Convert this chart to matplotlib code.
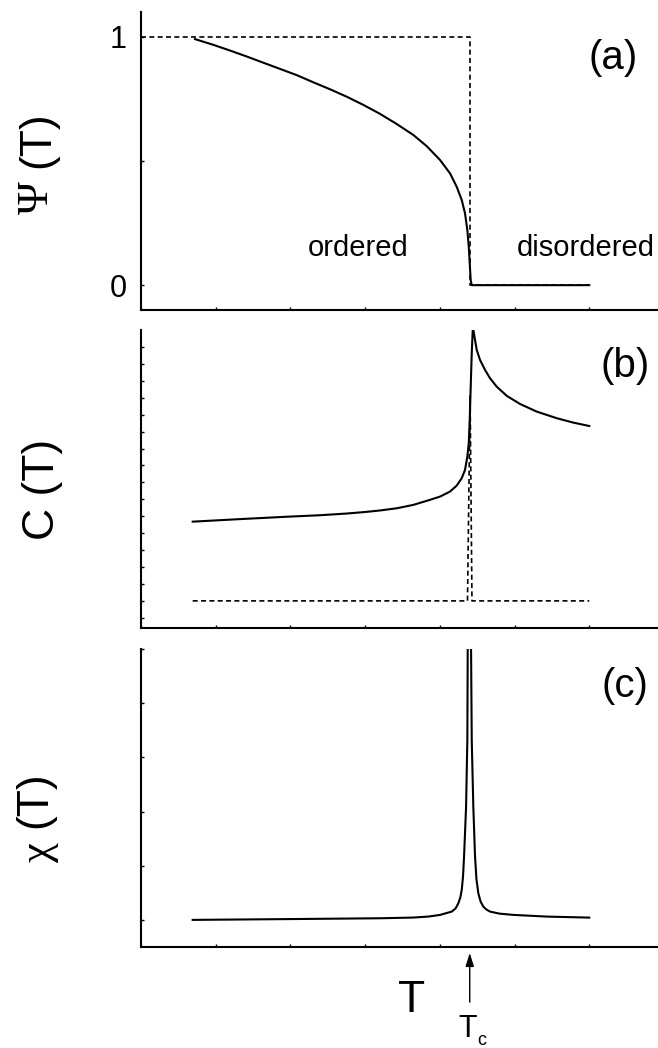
import matplotlib
matplotlib.use("Agg")
from matplotlib import pyplot as plt

plt.rcParams['font.family'] = ['Liberation Sans', 'DejaVu Sans']

# critical temperature (same x units as the curves)
Tc = 4.40

# (a) order parameter
psi_T = [0.723, 0.968, 1.191, 1.415, 1.637, 1.861, 2.084, 2.307, 2.530, 2.754,
         2.976, 3.199, 3.423, 3.645, 3.824, 4.003, 4.137, 4.226, 4.293, 4.337,
         4.368, 4.387, 4.400, 4.413, 4.427, 6.0]
psi = [0.991, 0.968, 0.945, 0.921, 0.896, 0.871, 0.846, 0.817, 0.789, 0.759,
       0.726, 0.690, 0.649, 0.605, 0.560, 0.504, 0.450, 0.396, 0.343, 0.289,
       0.222, 0.155, 0.088, 0.020, 0.0, 0.0]
step_T = [0.0, Tc, Tc, 6.0]
step_psi = [1.0, 1.0, 0.0, 0.0]

# (b) specific heat
C_T = [0.692, 1.325, 1.950, 2.4, 2.754, 3.0, 3.199, 3.423, 3.645, 3.869,
       4.003, 4.137, 4.226, 4.293, 4.337, 4.368, 4.387, 4.400, 4.413, 4.427,
       4.440, 4.449, 4.471, 4.494, 4.538, 4.605, 4.672, 4.762, 4.896, 5.074,
       5.297, 5.565, 5.787, 6.0]
C = [5.68, 5.83, 5.97, 6.06, 6.16, 6.25, 6.34, 6.47, 6.67, 6.97,
     7.16, 7.46, 7.81, 8.25, 8.74, 9.52, 10.31, 11.69, 13.65, 15.63,
     17.0, 17.0, 16.41, 15.82, 15.23, 14.64, 14.15, 13.65, 13.11, 12.63,
     12.18, 11.79, 11.53, 11.33]
C1_T = [0.692, 4.37, 4.405, 4.43, 6.0]
C1 = [1.0, 1.0, 13.1, 1.0, 1.0]

# (c) susceptibility
chi_T = [0.692, 2.0, 3.2, 3.645, 3.85, 4.003, 4.159, 4.21, 4.248, 4.275,
         4.293, 4.31, 4.324, 4.351, 4.368, 4.373, 4.395, 4.418, 4.427, 4.448,
         4.471, 4.49, 4.515, 4.545, 4.582, 4.62, 4.672, 4.8, 4.984, 5.431, 6.0]
chi = [0.0, 0.015, 0.03, 0.043, 0.062, 0.092, 0.153, 0.21, 0.307, 0.42,
       0.552, 0.8, 1.166, 2.087, 3.315, 4.97, 9.0, 4.97, 3.315, 2.087,
       1.166, 0.75, 0.492, 0.34, 0.245, 0.195, 0.153, 0.115, 0.092, 0.061, 0.042]

fig = plt.figure(figsize=(6.58, 10.48), dpi=100)

left, width, height = 0.2143, 0.7857, 0.2843
ax_a = fig.add_axes([left, 0.7042, width, height])
ax_b = fig.add_axes([left, 0.4008, width, height])
ax_c = fig.add_axes([left, 0.0964, width, height])

for ax in (ax_a, ax_b, ax_c):
    ax.set_xlim(0, 6.92)
    ax.set_xticks(range(0, 7))
    ax.set_xticklabels([])
    for s in ('top', 'right'):
        ax.spines[s].set_visible(False)
    for s in ('left', 'bottom'):
        ax.spines[s].set_linewidth(1.5)
    ax.tick_params(direction='in', length=2, width=1, pad=10, labelsize=22)

dash = (0, (3, 2))

ax_a.plot(psi_T, psi, color='k', lw=1.5)
ax_a.plot(step_T, step_psi, color='k', lw=1.2, linestyle=dash)
ax_a.set_ylim(-0.1, 1.1)
ax_a.set_yticks([0, 0.5, 1])
ax_a.set_yticklabels(['0', '', '1'])

ax_b.plot(C_T, C, color='k', lw=1.5)
ax_b.plot(C1_T, C1, color='k', lw=1.2, linestyle=dash)
ax_b.set_ylim(-0.6, 17)
ax_b.set_yticks(range(0, 17))
ax_b.set_yticklabels([])

ax_c.plot(chi_T, chi, color='k', lw=1.5)
ax_c.set_ylim(-0.5, 5.0)
ax_c.set_yticks(range(0, 6))
ax_c.set_yticklabels([])

# axis titles: greek symbol in a serif face, "(T)" in sans
serif = ['Liberation Serif', 'DejaVu Serif']
fig.text(0.0562, 0.8115, 'Ψ', rotation=90, ha='center', va='center', fontsize=32, family=serif)
fig.text(0.057, 0.8664, '(T)', rotation=90, ha='center', va='center', fontsize=32)
fig.text(0.0653, 0.5334, 'C (T)', rotation=90, ha='center', va='center', fontsize=32)
fig.text(0.060, 0.1870, 'χ', rotation=90, ha='center', va='center', fontsize=32, family=serif)
fig.text(0.0525, 0.2366, '(T)', rotation=90, ha='center', va='center', fontsize=32)

fig.text(0.9316, 0.934, '(a)', ha='center', va='baseline', fontsize=29)
fig.text(0.9498, 0.6403, '(b)', ha='center', va='baseline', fontsize=29)
fig.text(0.9498, 0.3349, '(c)', ha='center', va='baseline', fontsize=29)

fig.text(0.5441, 0.7557, 'ordered', ha='center', va='baseline', fontsize=21)
fig.text(0.8906, 0.7557, 'disordered', ha='center', va='baseline', fontsize=21)

fig.text(0.626, 0.0344, 'T', ha='center', va='baseline', fontsize=32)

# Tc marker under the bottom panel
ax_c.annotate('', xy=(Tc, -0.02), xytext=(Tc, -0.185),
              xycoords=('data', 'axes fraction'), textcoords=('data', 'axes fraction'),
              arrowprops=dict(arrowstyle='-|>,head_length=0.8,head_width=0.25',
                              lw=1, color='k', shrinkA=0, shrinkB=0),
              annotation_clip=False)
fig.text(0.711, 0.0105, 'T', ha='center', va='baseline', fontsize=22)
fig.text(0.7249, 0.0025, 'c', ha='left', va='baseline', fontsize=13)

fig.savefig('out.png', dpi=100)
